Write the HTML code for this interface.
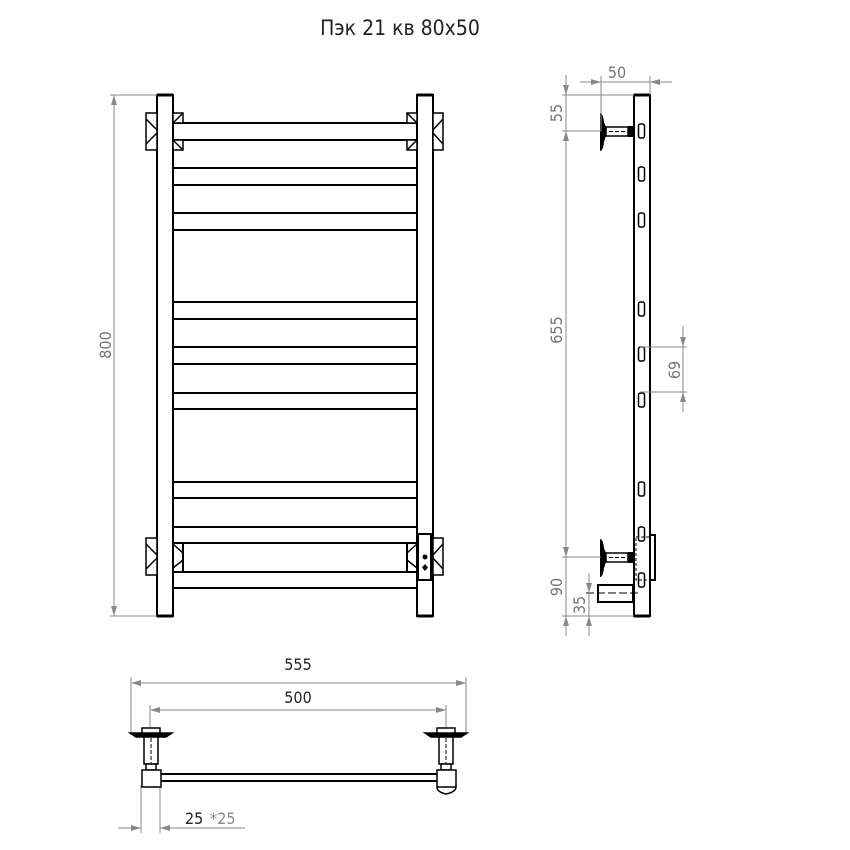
<!DOCTYPE html>
<html><head><meta charset="utf-8"><style>
body{margin:0;background:#fff}
svg{display:block}
text{font-family:"DejaVu Sans Condensed","Liberation Sans",sans-serif}
</style></head><body>
<svg width="850" height="850" viewBox="0 0 850 850" xmlns="http://www.w3.org/2000/svg">
<defs>
<marker id="a" viewBox="0 0 10 6" refX="10" refY="3" markerWidth="10" markerHeight="6" orient="auto-start-reverse" markerUnits="userSpaceOnUse"><path d="M0,0 L10,3 L0,6 Z" fill="#888"/></marker>
</defs>
<text x="400" y="35" font-size="21" text-anchor="middle" fill="#222">Пэк 21 кв 80x50</text>

<g stroke="#000" stroke-width="2" fill="none">
<rect x="157" y="95" width="16" height="521"/>
<rect x="417" y="95" width="16" height="521"/>
<line x1="157" y1="95" x2="173" y2="95" stroke-width="3"/>
<line x1="417" y1="95" x2="433" y2="95" stroke-width="3"/>
<line x1="157" y1="616" x2="173" y2="616" stroke-width="3"/>
<line x1="417" y1="616" x2="433" y2="616" stroke-width="3"/>
<line x1="173" y1="123" x2="417" y2="123"/><line x1="173" y1="140" x2="417" y2="140"/>
<line x1="173" y1="168" x2="417" y2="168"/><line x1="173" y1="185" x2="417" y2="185"/>
<line x1="173" y1="213" x2="417" y2="213"/><line x1="173" y1="230" x2="417" y2="230"/>
<line x1="173" y1="302" x2="417" y2="302"/><line x1="173" y1="319" x2="417" y2="319"/>
<line x1="173" y1="347" x2="417" y2="347"/><line x1="173" y1="364" x2="417" y2="364"/>
<line x1="173" y1="393" x2="417" y2="393"/><line x1="173" y1="409" x2="417" y2="409"/>
<line x1="173" y1="482" x2="417" y2="482"/><line x1="173" y1="498" x2="417" y2="498"/>
<line x1="173" y1="527" x2="417" y2="527"/><line x1="173" y1="543" x2="417" y2="543"/>
<line x1="173" y1="572" x2="417" y2="572"/><line x1="173" y1="588" x2="417" y2="588"/>
<line x1="183" y1="543" x2="183" y2="572"/><line x1="407" y1="543" x2="407" y2="572"/>
</g>
<g stroke="#000" stroke-width="1.5" fill="#fff">
<rect x="146" y="113" width="11" height="37"/><path d="M146,119 L157,130 M146,144 L157,133" />
<rect x="173" y="113" width="10" height="10"/><path d="M173,123 L183,113"/>
<rect x="173" y="140" width="10" height="10"/><path d="M173,140 L183,150"/>
<rect x="407" y="113" width="10" height="10"/><path d="M407,113 L417,123"/>
<rect x="407" y="140" width="10" height="10"/><path d="M407,150 L417,140"/>
<rect x="433" y="113" width="10" height="37"/><path d="M443,119 L433,130 M443,144 L433,133"/>
<rect x="146" y="538" width="11" height="37"/><path d="M146,544 L157,555 M146,569 L157,558"/>
<path d="M173,544 L183,553 M173,568 L183,560" fill="none"/>
<path d="M407,553 L417,544 M407,560 L417,568" fill="none"/>
<rect x="433" y="538" width="10" height="37"/><path d="M443,544 L433,555 M443,569 L433,558"/>
<rect x="418" y="534" width="13" height="46" stroke-width="2"/>
</g>
<circle cx="425" cy="557" r="2.5" fill="#000"/>
<path d="M425,564 L428,567.5 L425,571 L422,567.5Z" fill="#000"/>
<g stroke="#888" stroke-width="1" fill="none">
<line x1="110" y1="95" x2="157" y2="95"/><line x1="110" y1="616" x2="157" y2="616"/>
<line x1="114" y1="95" x2="114" y2="616" marker-start="url(#a)" marker-end="url(#a)"/>
</g>
<text x="0" y="0" font-size="16" fill="#777" text-anchor="middle" transform="translate(111,345) rotate(-90)">800</text>

<g stroke="#000" stroke-width="2" fill="none">
<rect x="634" y="95" width="16" height="521"/>
<line x1="634" y1="95" x2="650" y2="95" stroke-width="3"/>
<line x1="634" y1="616" x2="650" y2="616" stroke-width="3"/>
</g>
<g stroke="#000" stroke-width="1.5" fill="#fff">
<rect x="638.5" y="124" width="6" height="14" rx="2"/>
<rect x="638.5" y="167" width="6" height="14" rx="2"/>
<rect x="638.5" y="213" width="6" height="14" rx="2"/>
<rect x="638.5" y="302" width="6" height="14" rx="2"/>
<rect x="638.5" y="347" width="6" height="14" rx="2"/>
<rect x="638.5" y="393" width="6" height="14" rx="2"/>
<rect x="638.5" y="482" width="6" height="14" rx="2"/>
<rect x="638.5" y="527" width="6" height="14" rx="2"/>
<rect x="638.5" y="573" width="6" height="14" rx="2"/>
</g>
<g>
<path d="M600,113 Q603,113 604,122 L606,127 L606,136 L604,142 Q603,151 600,151 Z" fill="#000"/>
<rect x="606" y="127" width="22" height="9" fill="#fff" stroke="#000" stroke-width="1.5"/>
<line x1="609" y1="131.5" x2="626" y2="131.5" stroke="#000" stroke-dasharray="4,2"/>
<rect x="628" y="126" width="6" height="11" fill="#000"/>
<path d="M600,539 Q603,539 604,548 L606,553 L606,562 L604,568 Q603,577 600,577 Z" fill="#000"/>
<rect x="606" y="553" width="22" height="9" fill="#fff" stroke="#000" stroke-width="1.5"/>
<line x1="609" y1="557.5" x2="626" y2="557.5" stroke="#000" stroke-dasharray="4,2"/>
<rect x="628" y="552" width="6" height="11" fill="#000"/>
</g>
<g stroke="#000" fill="none">
<rect x="636" y="537" width="14" height="43" stroke-dasharray="3,2" stroke-width="1"/>
<rect x="650" y="535" width="5" height="45" stroke-width="2"/>
<rect x="598" y="585" width="35" height="17" stroke-width="2" fill="#fff"/>
<line x1="586" y1="593" x2="640" y2="593" stroke-dasharray="8,3" stroke-width="1"/>
</g>
<g stroke="#888" stroke-width="1" fill="none">
<line x1="601" y1="76" x2="601" y2="131"/><line x1="650" y1="76" x2="650" y2="95"/>
<line x1="580" y1="82" x2="601" y2="82" marker-end="url(#a)"/>
<line x1="601" y1="82" x2="650" y2="82"/>
<line x1="672" y1="82" x2="650" y2="82" marker-end="url(#a)"/>
<line x1="562" y1="95" x2="634" y2="95"/>
<line x1="562" y1="131" x2="601" y2="131"/>
<line x1="562" y1="557" x2="601" y2="557"/>
<line x1="562" y1="616" x2="634" y2="616"/>
<line x1="566" y1="75" x2="566" y2="95" marker-end="url(#a)"/>
<line x1="566" y1="95" x2="566" y2="131"/>
<line x1="566" y1="131" x2="566" y2="557" marker-start="url(#a)" marker-end="url(#a)"/>
<line x1="566" y1="557" x2="566" y2="616" />
<line x1="566" y1="636" x2="566" y2="616" marker-end="url(#a)"/>
<line x1="589" y1="573" x2="589" y2="593" marker-end="url(#a)"/>
<line x1="589" y1="593" x2="589" y2="616"/>
<line x1="589" y1="636" x2="589" y2="616" marker-end="url(#a)"/>
<line x1="640" y1="347" x2="687" y2="347"/><line x1="640" y1="392" x2="687" y2="392"/>
<line x1="683" y1="326" x2="683" y2="347" marker-end="url(#a)"/>
<line x1="683" y1="347" x2="683" y2="392"/>
<line x1="683" y1="412" x2="683" y2="392" marker-end="url(#a)"/>
</g>
<g font-size="16" fill="#777" text-anchor="middle">
<text x="617" y="78">50</text>
<text transform="translate(562,113) rotate(-90)">55</text>
<text transform="translate(562,330) rotate(-90)">655</text>
<text transform="translate(562,587) rotate(-90)">90</text>
<text transform="translate(585,605) rotate(-90)">35</text>
<text transform="translate(680,370) rotate(-90)">69</text>
</g>

<g stroke="#888" stroke-width="1" fill="none">
<line x1="131" y1="677" x2="131" y2="735"/><line x1="466" y1="677" x2="466" y2="735"/>
<line x1="131" y1="683" x2="466" y2="683" marker-start="url(#a)" marker-end="url(#a)"/>
<line x1="150" y1="705" x2="150" y2="770"/><line x1="446" y1="705" x2="446" y2="770"/>
<line x1="150" y1="710" x2="446" y2="710" marker-start="url(#a)" marker-end="url(#a)"/>
<line x1="141" y1="785" x2="141" y2="833"/><line x1="160" y1="785" x2="160" y2="833"/>
<line x1="118" y1="828" x2="141" y2="828" marker-end="url(#a)"/>
<line x1="245" y1="828" x2="160" y2="828" marker-end="url(#a)"/>
</g>
<text x="298" y="670" font-size="16" fill="#222" text-anchor="middle">555</text>
<text x="298" y="703" font-size="16" fill="#222" text-anchor="middle">500</text>
<text x="185" y="824" font-size="16" fill="#222">25</text>
<text x="210" y="824" font-size="16" fill="#888">*25</text>
<g stroke="#000" stroke-width="1.5" fill="#fff">
<rect x="160" y="774" width="280" height="7" stroke-width="2"/>
<path d="M130,733 L172,733 L166,737 L136,737 Z" fill="#000"/>
<rect x="142" y="728" width="18" height="5"/>
<rect x="144" y="737" width="14" height="27"/>
<line x1="151" y1="738" x2="151" y2="763" stroke-dasharray="4,2" stroke-width="1"/>
<rect x="146" y="764" width="10" height="6"/>
<rect x="142" y="770" width="19" height="17"/>
<path d="M425,733 L467,733 L461,737 L431,737 Z" fill="#000"/>
<rect x="437" y="728" width="18" height="5"/>
<rect x="439" y="737" width="14" height="27"/>
<line x1="446" y1="738" x2="446" y2="763" stroke-dasharray="4,2" stroke-width="1"/>
<rect x="441" y="764" width="10" height="6"/>
<path d="M437,770 L456,770 L456,787 Q456,792 446,794 Q437,792 437,787 Z"/>
<line x1="437" y1="787" x2="456" y2="787"/>
</g>
</svg>
</body></html>
